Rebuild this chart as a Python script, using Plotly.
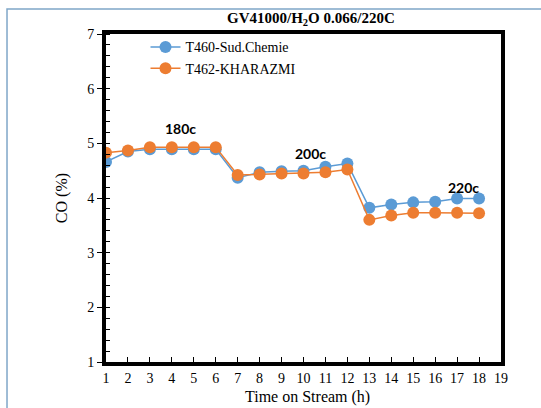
import plotly.graph_objects as go

time_h = list(range(1, 19))
t460_sud_chemie = [4.66, 4.85, 4.89, 4.89, 4.89, 4.89, 4.37, 4.47, 4.49, 4.50, 4.57, 4.63,
                   3.82, 3.88, 3.92, 3.93, 3.99, 3.99]
t462_kharazmi = [4.83, 4.87, 4.93, 4.93, 4.93, 4.93, 4.42, 4.43, 4.45, 4.45, 4.47, 4.52,
                 3.60, 3.68, 3.73, 3.73, 3.73, 3.72]
temp_labels = ["180c", "200c", "220c"]
temp_label_x = [4.4, 10.3, 17.3]
temp_label_y = [5.27, 4.82, 4.2]
x_ticks = list(range(1, 20))
y_ticks = list(range(1, 8))

serif = "Liberation Serif, Times New Roman, serif"
fig = go.Figure()
fig.add_trace(go.Scatter(x=time_h, y=t460_sud_chemie, mode="lines+markers", name="T460-Sud.Chemie",
                         line=dict(color="#5B9BD5", width=1.5),
                         marker=dict(color="#5B9BD5", size=12)))
fig.add_trace(go.Scatter(x=time_h, y=t462_kharazmi, mode="lines+markers", name="T462-KHARAZMI",
                         line=dict(color="#ED7D31", width=1.5),
                         marker=dict(color="#ED7D31", size=12)))

for lab, x, y in zip(temp_labels, temp_label_x, temp_label_y):
    fig.add_annotation(x=x, y=y, text="<b>%s</b>" % lab, showarrow=False,
                       font=dict(family="Lato, sans-serif", size=14, color="black"))

fig.add_annotation(xref="paper", yref="paper", x=0.518, y=1.045, yanchor="middle",
                   text="<b>GV41000/H<sub>2</sub>O 0.066/220C</b>", showarrow=False,
                   font=dict(family=serif, size=15, color="black"))
fig.add_annotation(xref="paper", yref="paper", x=0.51, y=-0.107, yanchor="middle",
                   text="Time on Stream (h)", showarrow=False,
                   font=dict(family=serif, size=16, color="black"))
fig.add_annotation(xref="paper", yref="paper", x=-0.111, y=0.5, xanchor="center", yanchor="middle",
                   text="CO (%)", textangle=-90, showarrow=False,
                   font=dict(family=serif, size=16, color="black"))

fig.add_shape(type="rect", xref="paper", yref="paper", x0=-0.2506, x1=1.12, y0=-0.16, y1=1.076,
              line=dict(color="#7FA6C8", width=1.5), fillcolor="rgba(0,0,0,0)", layer="below")

fig.update_layout(
    width=541, height=408,
    margin=dict(l=106, r=40, t=34, b=46),
    paper_bgcolor="white", plot_bgcolor="white",
    showlegend=True,
    legend=dict(x=0.1, y=1.008, xanchor="left", yanchor="top", bgcolor="rgba(0,0,0,0)",
                font=dict(family=serif, size=14, color="black"), itemwidth=30),
    font=dict(family=serif, color="black"),
)
fig.update_xaxes(range=[1, 19], tickvals=x_ticks, ticktext=[str(v) for v in x_ticks],
                 showline=True, linewidth=4, linecolor="black", mirror=True,
                 ticks="inside", ticklen=5, tickcolor="black", tickwidth=1,
                 showgrid=False, zeroline=False, automargin=False,
                 tickfont=dict(family=serif, size=14, color="black"))
fig.update_yaxes(range=[1, 7], tickvals=y_ticks, ticktext=[str(v) for v in y_ticks],
                 showline=True, linewidth=4, linecolor="black", mirror=True,
                 ticks="outside", ticklen=5, tickcolor="black", tickwidth=1,
                 minor=dict(dtick=0.2, ticks="inside", ticklen=4, tickcolor="black", tickwidth=1,
                            showgrid=False),
                 showgrid=False, zeroline=False, automargin=False,
                 tickfont=dict(family=serif, size=14, color="black"))

fig.write_html("out.html", config={"displayModeBar": False},
               post_script="document.body.style.margin='0';document.body.style.overflow='hidden';")
